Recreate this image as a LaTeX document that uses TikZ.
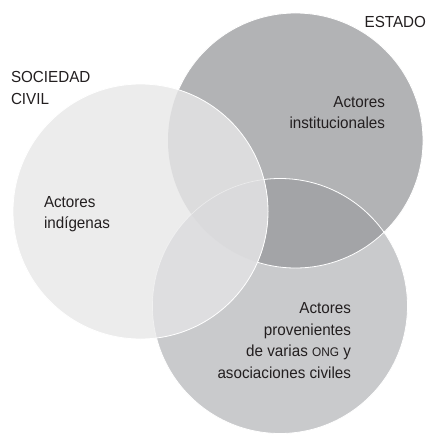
\documentclass[tikz,border=0pt]{standalone}
\usepackage{fontspec}
\newfontfamily\labfont{Liberation Sans}[FakeStretch=0.95]
\definecolor{cE}{HTML}{B2B3B5}
\definecolor{cB}{HTML}{C9CACC}
\definecolor{cEB}{HTML}{A3A4A7}
\definecolor{cL}{HTML}{ECECEC}
\definecolor{cLE}{HTML}{DCDCDD}
\definecolor{cLB}{HTML}{DEDEE0}
\definecolor{cLEB}{HTML}{DADADC}
\definecolor{txt}{HTML}{231F20}
\begin{document}
\begin{tikzpicture}[x=1pt,y=-1pt,
  lab/.style={inner sep=0pt,outer sep=0pt,text=txt,font=\labfont\fontsize{16}{21.5}\selectfont},
  rim/.style={draw=white,line width=0.8pt}]
\useasboundingbox (0,0) rectangle (427,436);
\fill[white] (0,0) rectangle (427,436);
\def\cE{(295.5,140.5) circle [radius=127.5pt]}
\def\cB{(280,306) circle [radius=127.5pt]}
\def\cL{(140.5,211.5) circle [radius=127.5pt]}
% base fills
\fill[cE] \cE;
\fill[cB] \cB;
\begin{scope}
  \clip \cE;
  \fill[cEB] \cB;
\end{scope}
\draw[rim] \cE;
\draw[rim] \cB;
% left circle on top
\fill[cL] \cL;
\begin{scope}
  \clip \cL;
  \fill[cLE] \cE;
  \fill[cLB] \cB;
  \begin{scope}
    \clip \cE;
    \fill[cLEB] \cB;
  \end{scope}
  \draw[draw=white,draw opacity=0.45,line width=0.7pt] \cB;
\end{scope}
\draw[rim] \cL;
% labels (base anchor = baseline of last line)
\node[lab,anchor=base east] (estado) at (426,28) {ESTADO};
\node[lab,anchor=base west,align=left] (soc) at (11,104.2) {SOCIEDAD\\CIVIL};
\node[lab,anchor=base east,align=right] (inst) at (385,128.5) {Actores\\institucionales};
\node[lab,anchor=base west,align=left] (ind) at (44,228.5) {Actores\\indígenas};
\node[lab,anchor=base east,align=right] (ong) at (351,378) {Actores\\provenientes\\de varias {\fontsize{12.5}{21.5}\selectfont ONG} y\\asociaciones civiles};
\end{tikzpicture}
\end{document}
